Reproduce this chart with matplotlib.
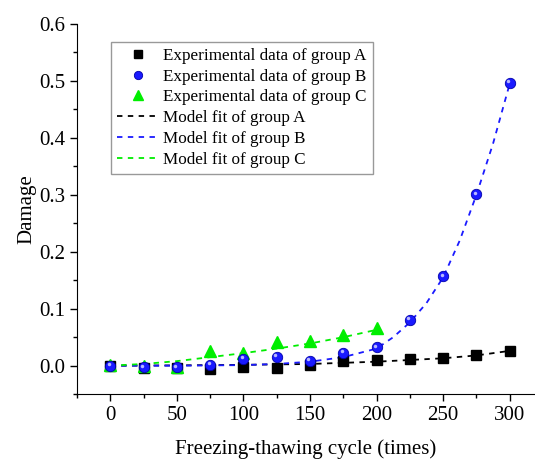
import numpy as np
import matplotlib.pyplot as plt
from matplotlib.ticker import MultipleLocator

plt.rcParams['font.family'] = ['Liberation Serif', 'DejaVu Serif']

# experimental data (freezing-thawing cycles vs damage)
cycles = [0, 25, 50, 75, 100, 125, 150, 175, 200, 225, 250, 275, 300]
damage_a = [0.0, -0.004, -0.004, -0.006, -0.003, -0.004, 0.002, 0.008, 0.010, 0.012, 0.013, 0.018, 0.026]
damage_b = [0.0, -0.003, -0.003, 0.002, 0.012, 0.015, 0.009, 0.023, 0.032, 0.081, 0.157, 0.301, 0.496]
cycles_c = [0, 25, 50, 75, 100, 125, 150, 175, 200]
damage_c = [0.002, -0.001, -0.002, 0.025, 0.022, 0.041, 0.043, 0.053, 0.066]

# model fit curves
fit_x_a = [0, 50, 100, 150, 200, 225, 250, 275, 300]
fit_a = [0.0, 0.0005, 0.0015, 0.003, 0.007, 0.010, 0.013, 0.018, 0.026]
fit_x_b = [0, 50, 100, 125, 150, 175, 200, 212.5, 225, 237.5, 250, 262.5, 275, 287.5, 300]
fit_b = [0.0, 0.0, 0.001, 0.003, 0.007, 0.015, 0.030, 0.050, 0.076, 0.110, 0.155, 0.220, 0.300, 0.390, 0.495]
fit_x_c = [0, 25, 50, 75, 100, 125, 150, 175, 200]
fit_c = [0.0, 0.003, 0.008, 0.015, 0.022, 0.030, 0.039, 0.050, 0.063]

fig = plt.figure(figsize=(5.35, 4.61), dpi=100)
ax = fig.add_axes([0.144, 0.145, 0.856, 0.803])

ax.plot(cycles, damage_a, 's', color='black', markersize=7, label='Experimental data of group A', zorder=3)
ax.plot(cycles, damage_b, 'o', color='#1a1aff', markeredgecolor='#0000aa', markeredgewidth=0.6,
        markersize=7.5, label='Experimental data of group B', zorder=4)
# little highlight on the blue spheres
ax.plot(np.array(cycles) - 1.2, np.array(damage_b) + 0.003, 'o', color='#b8b8ff', markersize=2.5,
        markeredgewidth=0, zorder=5)
ax.plot(cycles_c, damage_c, '^', color='#00ee00', markersize=9, label='Experimental data of group C', zorder=3)

dash = (3, 3)
ax.plot(fit_x_a, fit_a, '--', color='black', lw=1.3, dashes=dash, label='Model fit of group A', zorder=2)
ax.plot(fit_x_b, fit_b, '--', color='#1a1aff', lw=1.3, dashes=dash, label='Model fit of group B', zorder=2)
ax.plot(fit_x_c, fit_c, '--', color='#00ee00', lw=1.3, dashes=dash, label='Model fit of group C', zorder=2)

ax.set_xlim(-25, 319)
ax.set_ylim(-0.05, 0.6)
ax.set_xticks([0, 50, 100, 150, 200, 250, 300])
ax.set_yticks([0.0, 0.1, 0.2, 0.3, 0.4, 0.5, 0.6])
ax.set_yticklabels(['0.0', '0.1', '0.2', '0.3', '0.4', '0.5', '0.6'])
ax.xaxis.set_minor_locator(MultipleLocator(25))
ax.yaxis.set_minor_locator(MultipleLocator(0.05))
ax.tick_params(which='major', direction='out', length=5, width=1, labelsize=15)
ax.tick_params(which='minor', direction='out', length=3, width=1)
ax.spines['top'].set_visible(False)
ax.spines['right'].set_visible(False)

ax.set_xlabel('Freezing-thawing cycle (times)', fontsize=15, labelpad=10)
ax.set_ylabel('Damage', fontsize=15, labelpad=2)

leg = ax.legend(loc='upper left', bbox_to_anchor=(0.056, 0.975), fontsize=12.3, frameon=True,
                fancybox=False, edgecolor='gray', handlelength=2.4, labelspacing=0.28,
                borderpad=0.35, handletextpad=0.3, markerscale=0.8)
leg.get_frame().set_linewidth(1.0)

fig.savefig('out.png', dpi=100)
